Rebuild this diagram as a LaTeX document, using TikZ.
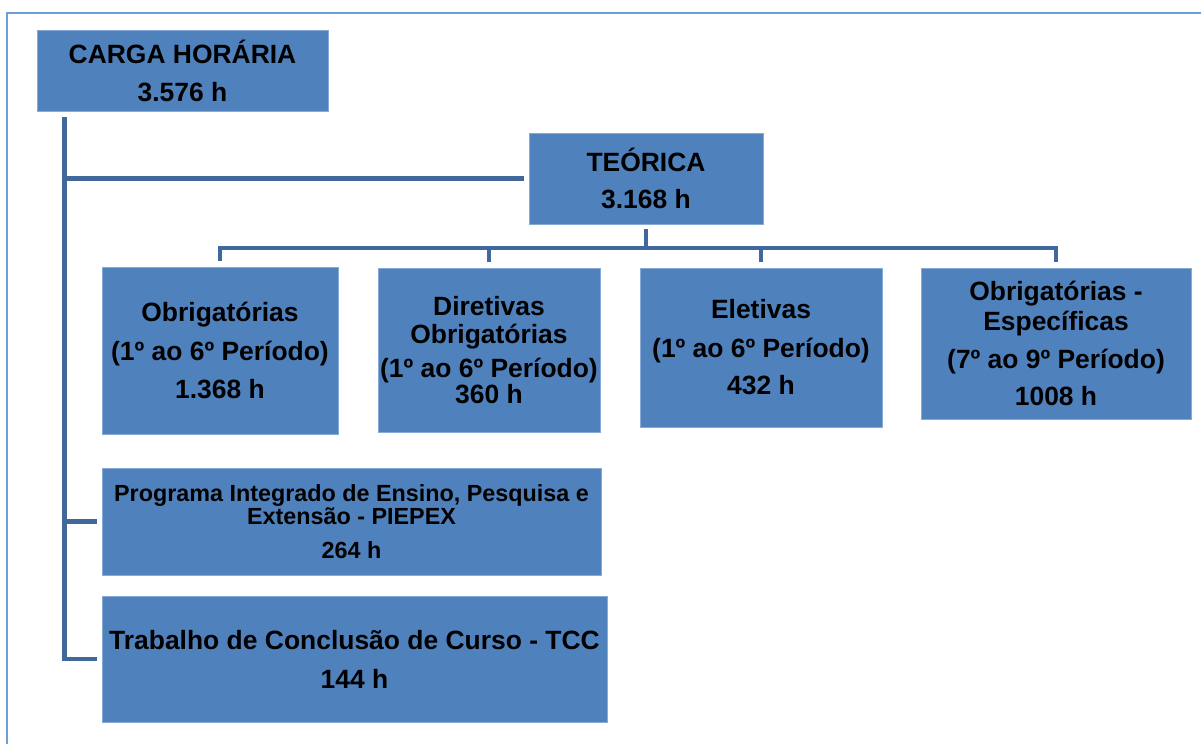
\documentclass[tikz,border=0pt]{standalone}
\usepackage{fontspec}
\setmainfont{Liberation Sans}
\usetikzlibrary{positioning}
\definecolor{boxblue}{RGB}{79,129,189}
\definecolor{boxedge}{RGB}{135,170,214}
\definecolor{linkblue}{RGB}{65,104,155}
\definecolor{frameblue}{RGB}{108,158,216}
\tikzset{
    cell/.style={fill=boxblue,draw=boxedge,line width=0.4pt,inner sep=0pt,align=center,
        font=\fontsize{18.8}{21}\selectfont\bfseries},
    link/.style={draw=linkblue,line width=3.5pt},
}
\begin{document}
\begin{tikzpicture}[x=0.025cm,y=-0.025cm]
            \useasboundingbox (0,0) rectangle (1201,744);
            \draw[frameblue,line width=1.1pt] (7,744)--(7,13)--(1201,13);
            % boxes
            \node[cell,minimum width=7.275cm,minimum height=2.025cm] (carga) at (182.5,70.5) {CARGA HORÁRIA\\[6pt]3.576 h};
            \node[cell,minimum width=5.85cm,minimum height=2.275cm] (teorica) at (646,178.5) {TEÓRICA\\[5.3pt]3.168 h};
            \node[cell,minimum width=5.9cm,minimum height=4.175cm] (obrig) at (220,350.5) {Obrigatórias\\[6.4pt](1º ao 6º Período)\\[6.4pt]1.368 h};
            \node[cell,minimum width=5.55cm,minimum height=4.1cm] (diret) at (489,350) {Diretivas\\[-1pt]Obrigatórias\\[2.5pt](1º ao 6º Período)\\[-2.5pt]360 h};
            \node[cell,minimum width=6.05cm,minimum height=3.975cm] (eletiv) at (761,347.5) {Eletivas\\[6.7pt](1º ao 6º Período)\\[5.3pt]432 h};
            \node[cell,minimum width=6.75cm,minimum height=3.775cm] (espec) at (1056,343.5) {Obrigatórias -\\Específicas\\[6pt](7º ao 9º Período)\\[5.3pt]1008 h};
            \node[cell,minimum width=12.475cm,minimum height=2.675cm,font=\fontsize{16.6}{16.5}\selectfont\bfseries] (piepex) at (351.5,521.5) {Programa Integrado de Ensino, Pesquisa e\\Extensão - PIEPEX\\[7.7pt]264 h};
            \node[cell,minimum width=12.625cm,minimum height=3.15cm] (tcc) at (354.5,659) {Trabalho de Conclusão de Curso - TCC\\[6.7pt]144 h};
            % trunk from carga
            \coordinate (trunk) at (64.5,117);
            \draw[link,shorten >=0.125cm] (trunk) |- (tcc.west);
            \foreach \n in {teorica,piepex}{
                \draw[link,shorten >=0.125cm] (trunk |- \n.west) -- (\n.west);
            }
            % tree under teorica
            \coordinate (bar) at (646,248);
            \draw[link,shorten <=0.125cm] (teorica.south) -- (bar);
            \draw[link,shorten <=0.15cm,shorten >=0.15cm] (obrig.north) |- (bar) -| (espec.north);
            \foreach \n in {diret,eletiv}{
                \draw[link,shorten >=0.15cm] (\n.north |- bar) -- (\n.north);
            }
        \end{tikzpicture}
\end{document}
